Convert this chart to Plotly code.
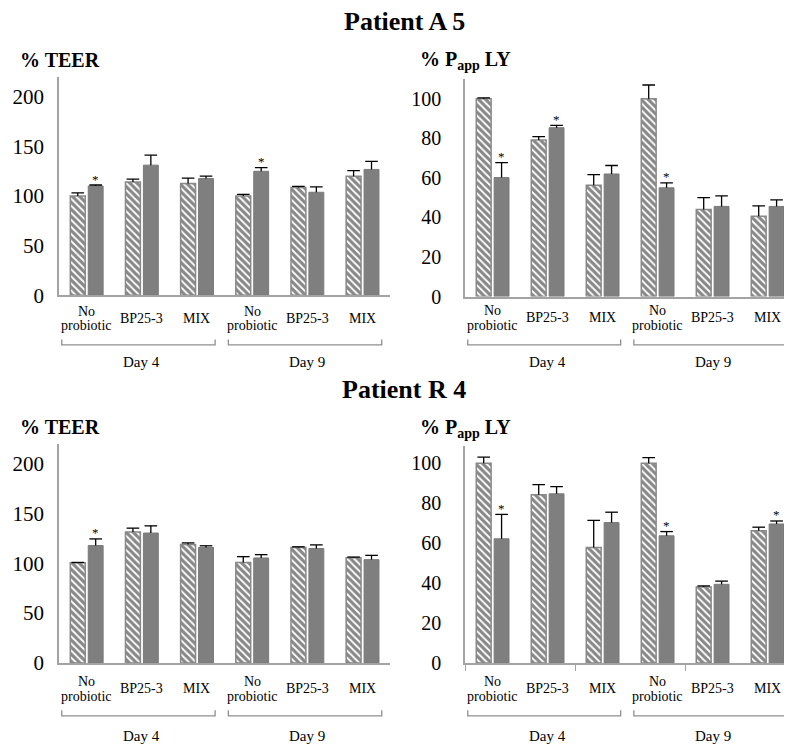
import plotly.graph_objects as go

W, H = 792, 749
FONT = "Liberation Serif, Times New Roman, serif"

# ---------------- data ----------------
categories = ["No probiotic", "BP25-3", "MIX", "No probiotic", "BP25-3", "MIX"]
days = ["Day 4", "Day 9"]
titles = ["Patient A 5", "Patient R 4"]

# Patient A 5 - % TEER
a5_teer_hatched = [100, 114, 112.5, 100, 108.6, 119.8]
a5_teer_hatched_err = [3, 3, 5.5, 1.5, 1, 5.6]
a5_teer_solid = [110, 131, 117.5, 124.8, 103.7, 126.7]
a5_teer_solid_err = [1, 10, 2.5, 3.6, 5.5, 8]
a5_teer_sig = [1, 0, 0, 1, 0, 0]

# Patient A 5 - % Papp LY
a5_papp_hatched = [100, 79.2, 56.3, 100, 44, 40.6]
a5_papp_hatched_err = [0.5, 1.7, 5.4, 7, 6, 5.3]
a5_papp_solid = [60.2, 85.4, 62, 55, 45.6, 45.6]
a5_papp_solid_err = [7.5, 1.2, 4.3, 2.5, 5.3, 3.3]
a5_papp_sig = [1, 1, 0, 1, 0, 0]

# Patient R 4 - % TEER
r4_teer_hatched = [100.5, 131.3, 118.8, 100.7, 115.8, 105.6]
r4_teer_hatched_err = [0.3, 3.9, 1.6, 5.9, 0.7, 0.6]
r4_teer_solid = [117.8, 130.3, 115.8, 105.3, 114.8, 103.6]
r4_teer_solid_err = [6.6, 7.2, 1.7, 3.3, 3.6, 4.3]
r4_teer_sig = [1, 0, 0, 0, 0, 0]

# Patient R 4 - % Papp LY
r4_papp_hatched = [100, 84.2, 57.8, 100, 38.1, 66.2]
r4_papp_hatched_err = [3.1, 5.1, 13.6, 2.8, 0.5, 1.8]
r4_papp_solid = [62.2, 84.7, 70.3, 63.7, 39.4, 69.6]
r4_papp_solid_err = [12.2, 3.6, 5.2, 2.1, 1.6, 1.5]
r4_papp_sig = [1, 0, 0, 1, 0, 1]

teer_ticks = [0, 50, 100, 150, 200]
papp_ticks = [0, 20, 40, 60, 80, 100]


def yp(pix):
    return 1 - pix / H


def xp(pix):
    return pix / W


panels = [
    dict(xd=(51, 382), yd=(70, 292), ymax=219.8, ticks=teer_ticks,
         h=a5_teer_hatched, he=a5_teer_hatched_err, s=a5_teer_solid, se=a5_teer_solid_err,
         sig=a5_teer_sig, label="<b>% TEER</b>", lx=10, ly=53, caty=315.5, bry=342.3,
         dayy=360, standoff=9, tfs=21, bticks=False),
    dict(xd=(457, 787), yd=(72, 293.3), ymax=110.1, ticks=papp_ticks,
         h=a5_papp_hatched, he=a5_papp_hatched_err, s=a5_papp_solid, se=a5_papp_solid_err,
         sig=a5_papp_sig, label="<b>% P<sub>app</sub> LY</b>", lx=410, ly=53, caty=315,
         bry=342.3, dayy=360, standoff=18, tfs=20, bticks=False),
    dict(xd=(51, 382), yd=(443, 665.6), ymax=219.7, ticks=teer_ticks,
         h=r4_teer_hatched, he=r4_teer_hatched_err, s=r4_teer_solid, se=r4_teer_solid_err,
         sig=r4_teer_sig, label="<b>% TEER</b>", lx=10, ly=426, caty=692, bry=719.3,
         dayy=740, standoff=9, tfs=21, bticks=False),
    dict(xd=(457, 787), yd=(445, 665.7), ymax=108.7, ticks=papp_ticks,
         h=r4_papp_hatched, he=r4_papp_hatched_err, s=r4_papp_solid, se=r4_papp_solid_err,
         sig=r4_papp_sig, label="<b>% P<sub>app</sub> LY</b>", lx=410, ly=427, caty=692,
         bry=719.3, dayy=740, standoff=18, tfs=20, bticks=True),
]

AXIS_COLOR = "#a3a3a3"
BAR_W = 0.27
H_OFF, S_OFF = -0.295, 0.03
H_C, S_C = H_OFF + BAR_W / 2, S_OFF + BAR_W / 2

fig = go.Figure()
annotations = []
shapes = []
idx = list(range(len(categories)))

for k, p in enumerate(panels):
    sfx = "" if k == 0 else str(k + 1)
    xa, ya = "x" + sfx, "y" + sfx

    fig.add_trace(go.Bar(
        x=idx, y=p["h"], width=BAR_W, offset=H_OFF, xaxis=xa, yaxis=ya, showlegend=False,
        marker=dict(color="white", line=dict(color="#888888", width=1.5),
                    pattern=dict(shape="\\", size=5, solidity=0.65,
                                 fgcolor="#111111", bgcolor="white")),
        hoverinfo="skip"))
    fig.add_trace(go.Bar(
        x=idx, y=p["s"], width=BAR_W, offset=S_OFF, xaxis=xa, yaxis=ya, showlegend=False,
        marker=dict(color="#7f7f7f", line=dict(color="#7a7a7a", width=1)),
        hoverinfo="skip"))

    for vals, errs, cx in ((p["h"], p["he"], H_C), (p["s"], p["se"], S_C)):
        fig.add_trace(go.Scatter(
            x=[i + cx for i in idx], y=[v + e for v, e in zip(vals, errs)],
            mode="markers", xaxis=xa, yaxis=ya, showlegend=False, hoverinfo="skip",
            marker=dict(symbol="line-ew", size=9, color="black",
                        line=dict(color="black", width=1.3)),
            error_y=dict(type="data", symmetric=False, array=[0] * len(vals),
                         arrayminus=errs, width=0, thickness=1.3, color="black")))

    # significance stars
    for i, (v, e, s) in enumerate(zip(p["s"], p["se"], p["sig"])):
        if s:
            annotations.append(dict(x=i + S_C, y=v + e, xref=xa, yref=ya, text="*",
                                    showarrow=False, yshift=6,
                                    font=dict(family=FONT, size=13, color="black")))

    # axes
    fig.update_layout(**{
        "xaxis" + sfx: dict(domain=[xp(p["xd"][0]), xp(p["xd"][1])], range=[-0.5, 5.5],
                            anchor=ya, showline=True, linecolor=AXIS_COLOR, linewidth=1.5,
                            showgrid=False, zeroline=False, showticklabels=False,
                            ticks="outside" if p["bticks"] else "",
                            tickvals=[-0.5, 1.5, 3.5, 5.5], ticklen=6,
                            tickcolor=AXIS_COLOR, tickwidth=1.3),
        "yaxis" + sfx: dict(domain=[yp(p["yd"][1]), yp(p["yd"][0])], range=[0, p["ymax"]],
                            anchor=xa, showline=True, linecolor=AXIS_COLOR, linewidth=1.5,
                            showgrid=False, zeroline=False, tickvals=p["ticks"],
                            ticks="", ticklabelstandoff=p["standoff"],
                            tickfont=dict(family=FONT, size=p["tfs"], color="black")),
    })

    # category labels
    for i, c in enumerate(categories):
        lines = c.split(" ")
        n = len(lines)
        for j, ln in enumerate(lines):
            annotations.append(dict(x=i, y=yp(p["caty"]), xref=xa, yref="paper", text=ln,
                                    showarrow=False, yanchor="middle",
                                    yshift=-(j - (n - 1) / 2) * 14.7,
                                    font=dict(family=FONT, size=14, color="black")))

    # day brackets and labels
    for d, day in enumerate(days):
        x0 = 3 * d - 0.45 + 0.02 * d
        x1 = 3 * d + 2.33 + 0.02 * d
        y_b = yp(p["bry"])
        y_t = yp(p["bry"] - 5.5)
        shapes.append(dict(type="path", xref=xa, yref="paper",
                           path=f"M {x0},{y_t} L {x0},{y_b} L {x1},{y_b} L {x1},{y_t}",
                           line=dict(color="#8f8f8f", width=1.3)))
        annotations.append(dict(x=3 * d + 1, y=yp(p["dayy"]), xref=xa, yref="paper",
                                text=day, showarrow=False, yanchor="middle",
                                font=dict(family=FONT, size=15, color="black")))

    # y labels
    annotations.append(dict(x=xp(p["lx"]), y=yp(p["ly"]), xref="paper", yref="paper",
                            text=p["label"], showarrow=False, xanchor="left",
                            yanchor="middle", font=dict(family=FONT, size=20, color="black")))

# panel titles
for t, ty in zip(titles, (14, 388)):
    annotations.append(dict(x=0.5, y=yp(ty), xref="paper", yref="paper",
                            text=f"<b>{t}</b>", showarrow=False, yanchor="middle",
                            font=dict(family=FONT, size=26, color="black")))

fig.update_layout(width=W, height=H, margin=dict(l=0, r=0, t=0, b=0),
                  paper_bgcolor="white", plot_bgcolor="white",
                  barmode="overlay", annotations=annotations, shapes=shapes)

fig.write_html("out.html")
